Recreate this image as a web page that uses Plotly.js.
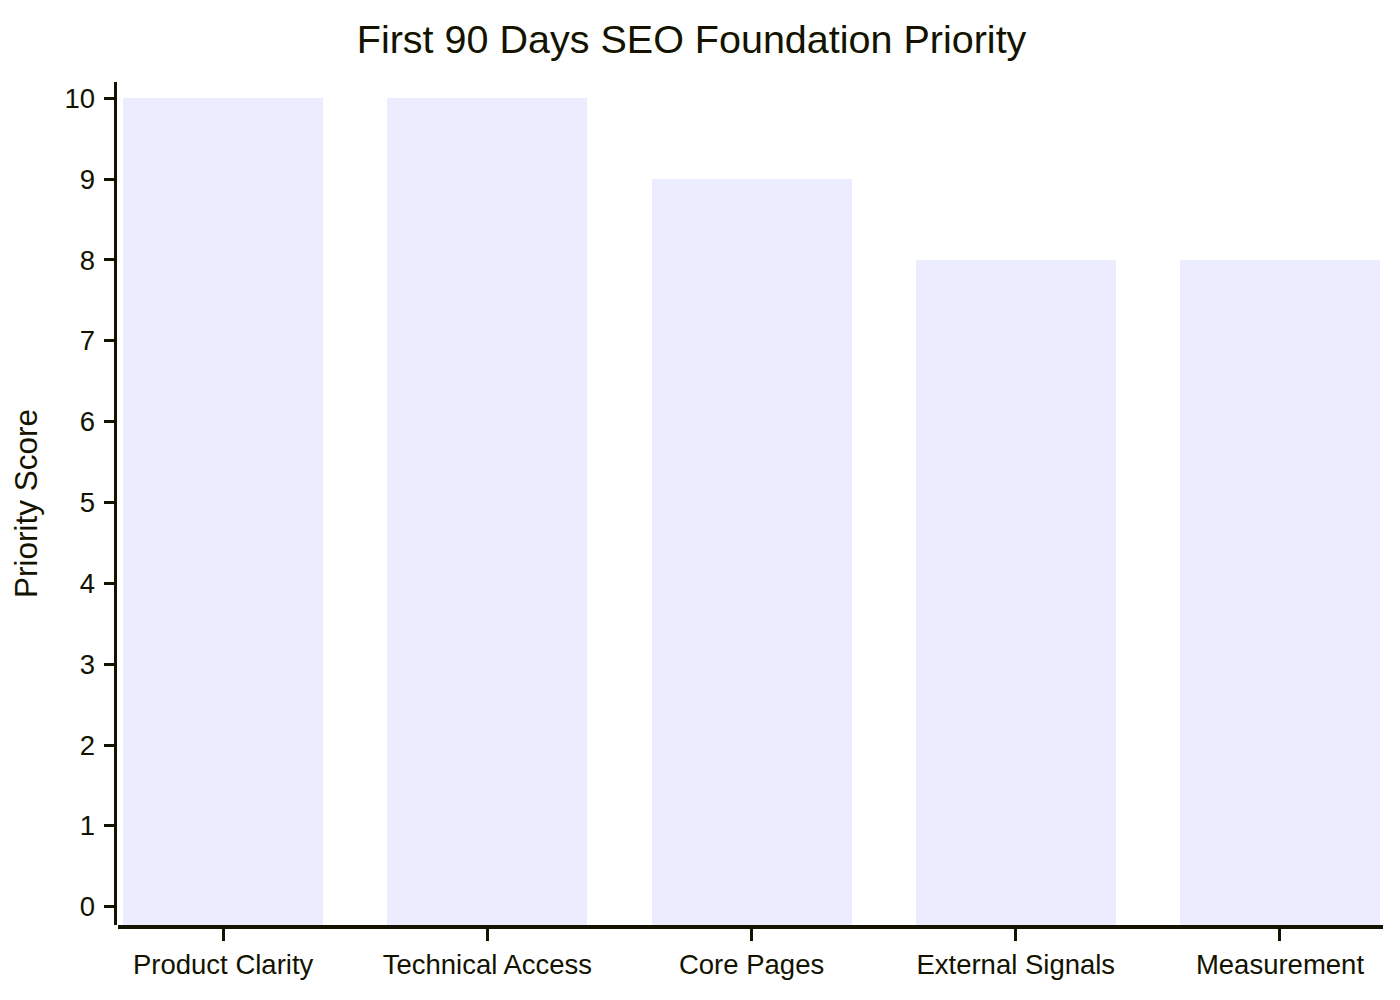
<!DOCTYPE html>
<html>
<head>
<meta charset="utf-8">
<script src="https://cdn.plot.ly/plotly-3.0.1.min.js"></script>
<style>
  html, body { margin: 0; padding: 0; background: #ffffff; }
  #chart { width: 1400px; height: 1000px; }
</style>
</head>
<body>
<div id="chart"></div>
<script>
// Foundation areas and their priority scores for the first 90 days
const categories = ["Product Clarity", "Technical Access", "Core Pages", "External Signals", "Measurement"];
const scores = [10, 10, 9, 8, 8];
const yTicks = [0, 1, 2, 3, 4, 5, 6, 7, 8, 9, 10];

const INK = "#131300";
const BAR_FILL = "#ECECFF";
const FONT = "Liberation Sans, Arial, sans-serif";

// Value axis runs a little below zero so the bars sit on the category axis line
const yMin = -0.226;
const yMax = 10.2;

const trace = {
  type: "bar",
  x: categories.map((_, i) => i),
  base: yMin,
  y: scores.map(v => v - yMin),
  width: 0.757,
  marker: { color: BAR_FILL, line: { width: 0 } },
  customdata: scores,
  hovertemplate: "%{text}: %{customdata}<extra></extra>",
  text: categories,
  textposition: "none"
};

const layout = {
  width: 1400,
  height: 1000,
  paper_bgcolor: "#ffffff",
  plot_bgcolor: "#ffffff",
  margin: { l: 100, r: 17, t: 82, b: 75 },
  showlegend: false,
  font: { family: FONT, color: INK },
  title: {
    text: "First 90 Days SEO Foundation Priority",
    font: { family: FONT, size: 39.5, color: INK },
    x: 0.494,
    xanchor: "center",
    xref: "container",
    y: 0.961,
    yref: "container",
    yanchor: "middle"
  },
  xaxis: {
    domain: [0.01403, 1],
    range: [-0.398, 4.39],
    tickmode: "array",
    tickvals: categories.map((_, i) => i),
    ticktext: categories,
    ticks: "outside",
    ticklen: 12,
    tickwidth: 3,
    tickcolor: INK,
    showline: true,
    linewidth: 3.5,
    linecolor: INK,
    showgrid: false,
    zeroline: false,
    tickfont: { family: FONT, size: 27.5, color: INK },
    fixedrange: true
  },
  yaxis: {
    range: [yMin, yMax],
    anchor: "free",
    position: 0.01208,
    tickmode: "array",
    tickvals: yTicks,
    ticktext: yTicks.map(String),
    ticks: "outside",
    ticklen: 10,
    tickwidth: 3,
    tickcolor: INK,
    ticklabelstandoff: 4,
    showline: true,
    linewidth: 3,
    linecolor: INK,
    showgrid: false,
    zeroline: false,
    tickfont: { family: FONT, size: 27.5, color: INK },
    title: {
      text: "Priority Score",
      font: { family: FONT, size: 31.5, color: INK },
      standoff: 16
    },
    fixedrange: true
  },
  bargap: 0
};

Plotly.newPlot("chart", [trace], layout, { displayModeBar: false, staticPlot: true });
</script>
</body>
</html>
